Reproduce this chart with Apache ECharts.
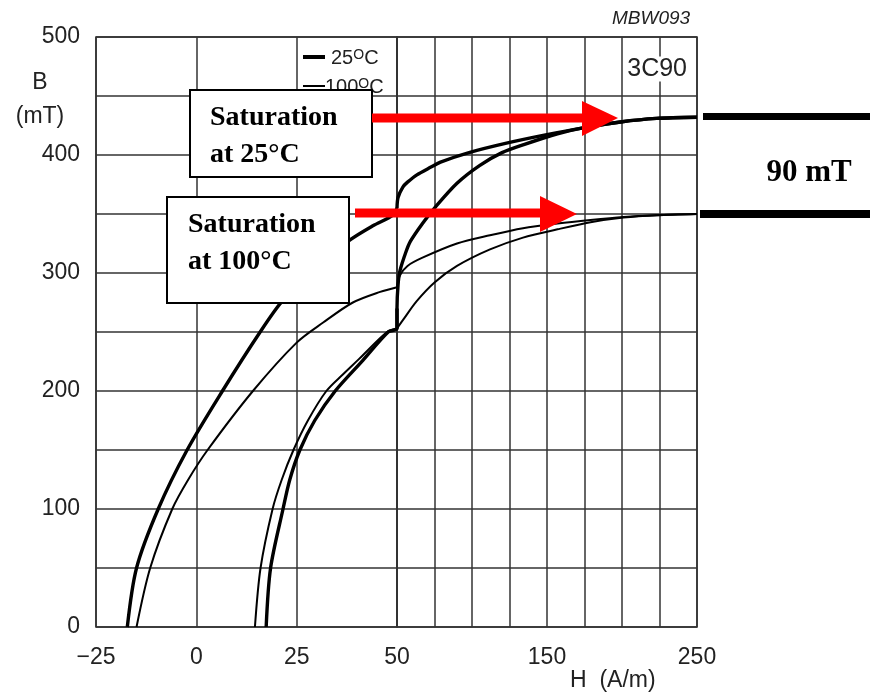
<!DOCTYPE html>
<html>
<head>
<meta charset="utf-8">
<script src="https://cdn.jsdelivr.net/npm/echarts@6/dist/echarts.min.js"></script>
<style>
  html, body { margin: 0; padding: 0; background: #fff; }
  #chart { width: 870px; height: 692px; }
</style>
</head>
<body>
<div id="chart"></div>
<script>
// B-H loops for 3C90, [H (A/m), B (mT)]
// x axis is split: -25..50 on the left half, 50..250 on the right half
var thick25Desc = [[-17.2,0],[-14.9,50],[-9.5,100],[-2.3,150],[6.5,200],[15.9,250],[21.6,277],[30,305],[38.3,328],[44,340],[49,349],[50,355],
    [50.7,364],[54,373],[57,377],[63,383],[73,390],[79,394],[98,402],[123,410],[149,417],[174,423],[199,428],[223,431],[250,432]];
var thick25Asc = [[17.4,0],[18.5,50],[21.6,100],[23.3,125],[25.8,150],[29.5,175],[34.6,200],[41.5,226],[47.8,250],[50,253],
    [50,270],[50.7,290],[52,302],[56,318],[59,327],[67,342],[75,355],[90,376],[105,391],[120,402],[135,409],[157,418],[174,423],[199,428],[223,431],[250,432]];
var thin100Desc = [[-14.9,0],[-11.5,50],[-6,100],[-2,125],[2.8,150],[14.1,200],[25,241],[31.6,258],[39,275],[45.8,284],[50,288],
    [52,298],[57,306],[67,313],[90,325],[112,332],[134,338],[157,342],[179,345],[201,347.5],[223,349],[250,350]];
var thin100Asc = [[14.6,0],[16,50],[19,100],[21.3,125],[24.2,150],[27.8,175],[32.4,200],[36.5,214],[40.5,227],[47.5,250],[50,253],
    [55,262],[63,276],[75,292],[90,306],[112,320],[134,330],[157,337],[179,343],[201,347],[223,349],[250,350]];

var hLabelsRight = [150, 250];
var bLabelStep = 100;

var chart = echarts.init(document.getElementById("chart"));

var tickFont = { fontFamily: "Liberation Sans", fontSize: 23, color: "#222" };
var gridLine = { lineStyle: { color: "#333", width: 1.5 } };

function leftPart(pts) { return pts.filter(function (p) { return p[0] <= 50; }); }
function rightPart(pts) { return pts.filter(function (p) { return p[0] >= 50; }); }

function curve(name, pts, width, idx) {
    return {
        name: name,
        type: "line",
        xAxisIndex: idx,
        yAxisIndex: idx,
        data: idx === 0 ? leftPart(pts) : rightPart(pts),
        showSymbol: false,
        smooth: 0.3,
        lineStyle: { color: "#000", width: width },
        z: 3,
        animation: false
    };
}

var series = [];
[0, 1].forEach(function (i) {
    series.push(curve("25C desc", thick25Desc, 3.4, i));
    series.push(curve("25C asc", thick25Asc, 3.4, i));
    series.push(curve("100C desc", thin100Desc, 2, i));
    series.push(curve("100C asc", thin100Asc, 2, i));
});

var serif = "Liberation Serif";

var option = {
    backgroundColor: "#fff",
    animation: false,
    grid: [
        { left: 96, top: 37, width: 301, height: 590, show: true, borderColor: "#222", borderWidth: 1.5 },
        { left: 397, top: 37, width: 300, height: 590, show: true, borderColor: "#222", borderWidth: 1.5 }
    ],
    xAxis: [
        {
            type: "value", gridIndex: 0, min: -25, max: 50, interval: 25,
            axisLine: { show: false }, axisTick: { show: false },
            splitLine: gridLine,
            axisLabel: Object.assign({
                margin: 19, showMinLabel: true, showMaxLabel: true,
                formatter: function (v) { return v < 0 ? "\u2212" + Math.abs(v) : String(v); }
            }, tickFont)
        },
        {
            type: "value", gridIndex: 1, min: 50, max: 250, interval: 25,
            axisLine: { show: false }, axisTick: { show: false },
            splitLine: gridLine,
            axisLabel: Object.assign({
                margin: 19, showMinLabel: true, showMaxLabel: true,
                formatter: function (v) { return hLabelsRight.indexOf(v) >= 0 ? String(v) : ""; }
            }, tickFont)
        }
    ],
    yAxis: [
        {
            type: "value", gridIndex: 0, min: 0, max: 500, interval: 50,
            axisLine: { show: false }, axisTick: { show: false },
            splitLine: gridLine,
            axisLabel: Object.assign({
                margin: 16, showMinLabel: true, showMaxLabel: true,
                formatter: function (v) { return v % bLabelStep === 0 ? String(v) : ""; }
            }, tickFont)
        },
        {
            type: "value", gridIndex: 1, min: 0, max: 500, interval: 50,
            axisLine: { show: false }, axisTick: { show: false },
            splitLine: gridLine,
            axisLabel: { show: false }
        }
    ],
    series: series,
    graphic: [
        // axis titles and figure tags
        { type: "text", left: 612, top: 9, style: { text: "MBW093", fontFamily: "Liberation Sans", fontStyle: "italic", fontSize: 19, fill: "#222" } },
        { type: "text", x: 40, y: 83, style: { text: "B", fontFamily: "Liberation Sans", fontSize: 23, fill: "#222", align: "center", verticalAlign: "middle" } },
        { type: "text", x: 40, y: 117, style: { text: "(mT)", fontFamily: "Liberation Sans", fontSize: 23, fill: "#222", align: "center", verticalAlign: "middle" } },
        { type: "text", x: 570, y: 681, style: { text: "H  (A/m)", fontFamily: "Liberation Sans", fontSize: 23, fill: "#222", verticalAlign: "middle" } },
        { type: "text", x: 687, y: 69, z: 10, style: { text: "3C90", fontFamily: "Liberation Sans", fontSize: 25, fill: "#222", align: "right", verticalAlign: "middle", backgroundColor: "#fff" } },
        // legend
        { type: "line", z: 10, shape: { x1: 303, y1: 57, x2: 325, y2: 57 }, style: { stroke: "#000", lineWidth: 4 } },
        { type: "text", x: 331, y: 58, z: 10, style: {
            text: "{n|25}{s|O}{n|C}", verticalAlign: "middle",
            rich: { n: { fontFamily: "Liberation Sans", fontSize: 20, fill: "#222" }, s: { fontFamily: "Liberation Sans", fontSize: 14, fill: "#222", verticalAlign: "top" } }
        } },
        { type: "line", z: 10, shape: { x1: 303, y1: 86, x2: 325, y2: 86 }, style: { stroke: "#000", lineWidth: 2 } },
        { type: "text", x: 325, y: 87, z: 10, style: {
            text: "{n|100}{s|O}{n|C}", verticalAlign: "middle",
            rich: { n: { fontFamily: "Liberation Sans", fontSize: 20, fill: "#222" }, s: { fontFamily: "Liberation Sans", fontSize: 14, fill: "#222", verticalAlign: "top" } }
        } },
        // saturation boxes
        { type: "rect", z: 20, shape: { x: 190, y: 90, width: 182, height: 87 }, style: { fill: "#fff", stroke: "#000", lineWidth: 2 } },
        { type: "text", z: 21, x: 210, y: 136, style: { text: "Saturation\nat 25\u00b0C", fontFamily: serif, fontWeight: "bold", fontSize: 28, lineHeight: 37, fill: "#000", verticalAlign: "middle" } },
        { type: "rect", z: 20, shape: { x: 167, y: 197, width: 182, height: 106 }, style: { fill: "#fff", stroke: "#000", lineWidth: 2 } },
        { type: "text", z: 21, x: 188, y: 243, style: { text: "Saturation\nat 100\u00b0C", fontFamily: serif, fontWeight: "bold", fontSize: 28, lineHeight: 37, fill: "#000", verticalAlign: "middle" } },
        // red arrows
        { type: "line", z: 22, shape: { x1: 372, y1: 118, x2: 584, y2: 118 }, style: { stroke: "#ff0000", lineWidth: 9 } },
        { type: "polygon", z: 22, shape: { points: [[582, 101], [618, 118], [582, 136]] }, style: { fill: "#ff0000" } },
        { type: "line", z: 22, shape: { x1: 355, y1: 213, x2: 542, y2: 213 }, style: { stroke: "#ff0000", lineWidth: 9 } },
        { type: "polygon", z: 22, shape: { points: [[540, 196], [577, 214], [540, 232]] }, style: { fill: "#ff0000" } },
        // 90 mT gap
        { type: "line", z: 22, shape: { x1: 703, y1: 116.5, x2: 870, y2: 116.5 }, style: { stroke: "#000", lineWidth: 7 } },
        { type: "line", z: 22, shape: { x1: 700, y1: 214, x2: 870, y2: 214 }, style: { stroke: "#000", lineWidth: 8 } },
        { type: "text", z: 22, x: 809, y: 173, style: { text: "90 mT", fontFamily: serif, fontWeight: "bold", fontSize: 31, fill: "#000", align: "center", verticalAlign: "middle" } }
    ]
};

chart.setOption(option);

window.onresize = function () {
    chart.resize();
};
</script>
</body>
</html>
